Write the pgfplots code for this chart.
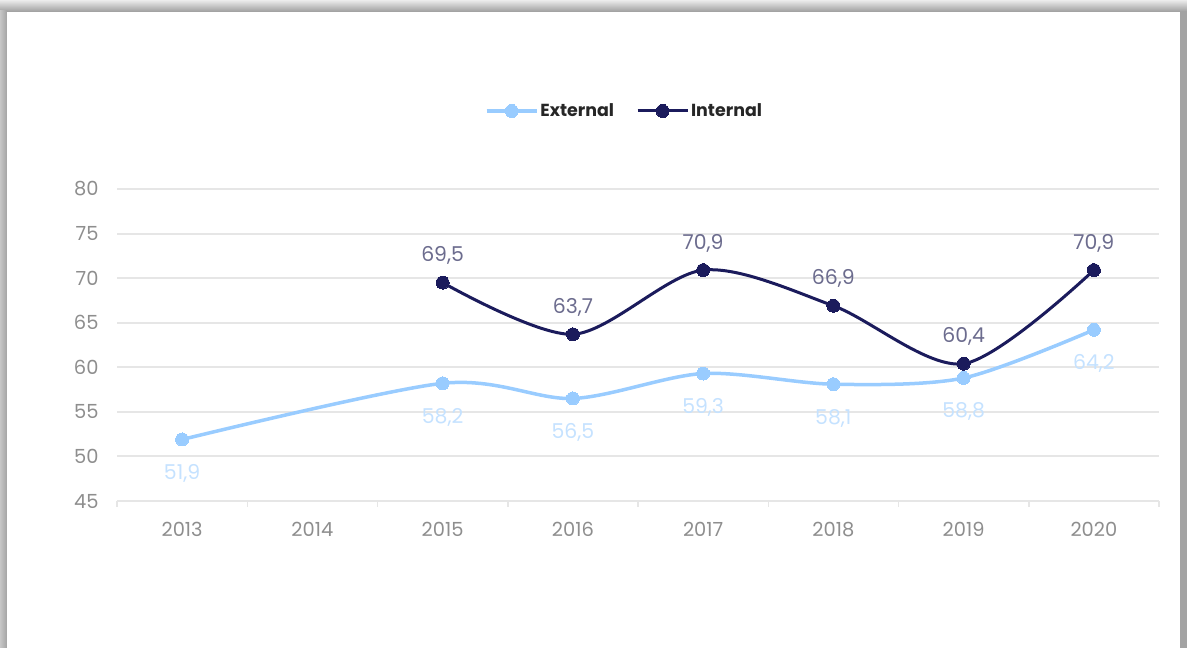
\documentclass[border=0pt]{standalone}
\usepackage{pgfplots}
\pgfplotsset{compat=1.18}
\usepackage{fontspec}
\setmainfont{Poppins}
\definecolor{ext}{HTML}{99CCFF}
\definecolor{extlab}{HTML}{C5E2FF}
\definecolor{intc}{HTML}{1B1B5C}
\definecolor{intlab}{HTML}{6C6C8E}
\definecolor{tickc}{HTML}{8E8E8E}
\definecolor{gridc}{HTML}{E6E6E6}
\definecolor{framec}{HTML}{A3A3A3}
\begin{document}
\begin{tikzpicture}[x=1bp,y=1bp]
\useasboundingbox (0,0) rectangle (1187,648);
\fill[framec] (0,0) rectangle (1187,648);
\shade[top color=gray!15, bottom color=framec] (0,637) rectangle (1187,648);
\shade[left color=gray!45, right color=framec] (0,0) rectangle (7,637);
\fill[white] (7,0) rectangle (1180,636);
\begin{axis}[
  at={(117bp,147bp)}, anchor=south west,
  scale only axis, width=1042bp, height=312bp,
  xmin=-0.5, xmax=7.5, ymin=45, ymax=80,
  xtick={0,...,7}, xticklabels={2013,2014,2015,2016,2017,2018,2019,2020},
  minor xtick={-0.5,0.5,...,7.5},
  ytick={45,50,...,80},
  axis lines=left,
  x axis line style={draw=gridc, line width=2bp, -},
  y axis line style={draw=none},
  major tick length=0pt, minor tick length=6bp, tick align=outside,
  minor tick style={draw=gridc, line width=1.5bp},
  ymajorgrids, major grid style={draw=gridc, line width=2bp},
  tick label style={text=tickc, font=\fontsize{19.5}{22}\selectfont},
  xticklabel style={yshift=-18bp},
  yticklabel style={xshift=-15bp},
  /pgf/number format/assume math mode=true,
  clip=false,
  legend columns=2,
  legend style={draw=none, fill=none, at={(0.487,1)}, anchor=center, yshift=78bp,
    font=\bfseries\fontsize{17.5}{20}\selectfont, text=black!85,
    /tikz/every even column/.append style={column sep=20bp}},
  legend image code/.code={\draw[mark repeat=2, mark phase=2, #1] plot coordinates {(0bp,0bp)(25bp,0bp)(50bp,0bp)};},
  nodes near coords={\pgfmathprintnumber[fixed, fixed zerofill, precision=1, use comma]{\pgfplotspointmeta}},
]
\addplot[ext, line width=3.5bp, smooth, tension=0.5, mark=*, mark size=6.5bp,
  mark options={fill=ext, draw=ext, line width=0pt},
  every node near coord/.append style={anchor=base, yshift=-40bp, inner sep=0pt, text=extlab, font=\fontsize{20.5}{22}\selectfont}]
  coordinates {(0,51.9)(2,58.2)(3,56.5)(4,59.3)(5,58.1)(6,58.8)(7,64.2)};
\addlegendentry{External}
\addplot[intc, line width=3bp, smooth, tension=0.5, mark=*, mark size=6.5bp,
  mark options={fill=intc, draw=intc, line width=0pt},
  every node near coord/.append style={anchor=base, yshift=21bp, inner sep=0pt, text=intlab, font=\fontsize{20.5}{22}\selectfont}]
  coordinates {(2,69.5)(3,63.7)(4,70.9)(5,66.9)(6,60.4)(7,70.9)};
\addlegendentry{Internal}
\end{axis}
\end{tikzpicture}
\end{document}
